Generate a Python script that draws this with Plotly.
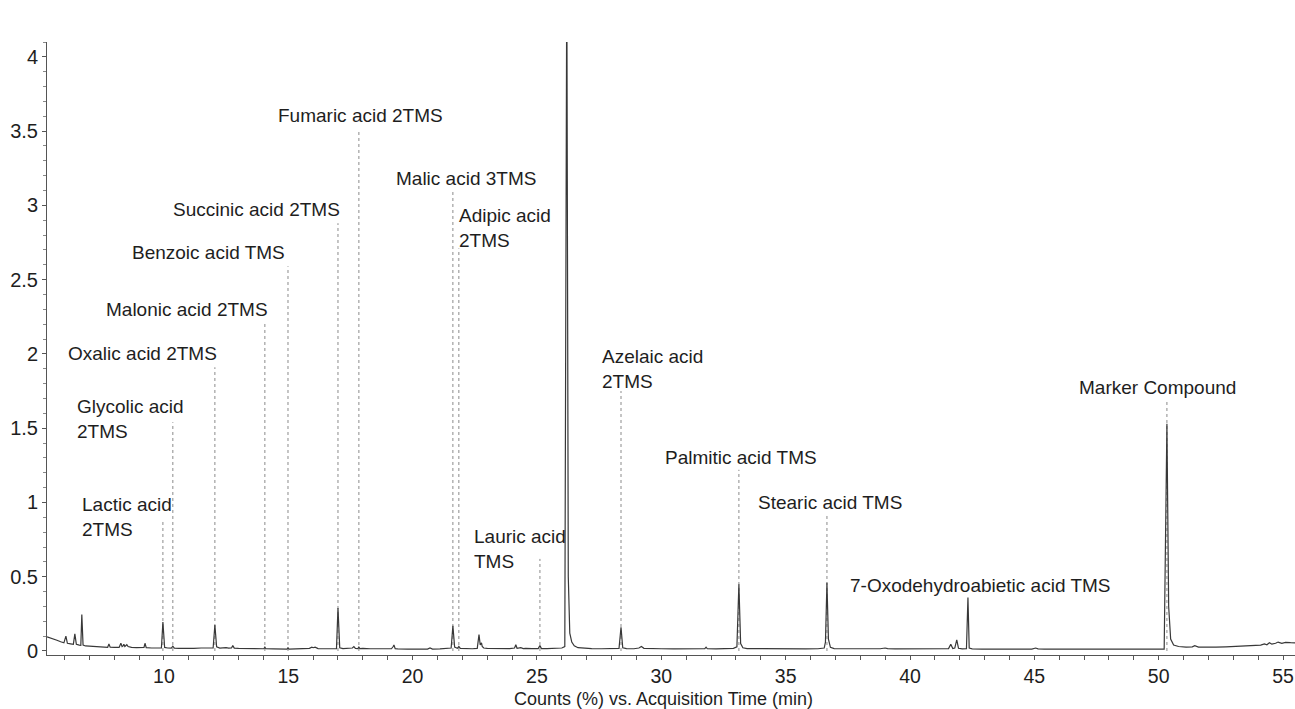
import plotly.graph_objects as go

# ---- chromatogram trace ----
time_min = [
    5.30, 5.40, 5.55, 5.70, 5.85, 5.98, 6.06, 6.12, 6.25, 6.36,
    6.42, 6.48, 6.60, 6.66, 6.70, 6.75, 6.85, 7.00, 7.20, 7.40,
    7.60, 7.74, 7.79, 7.84, 8.00, 8.20, 8.27, 8.32, 8.36, 8.39,
    8.43, 8.48, 8.51, 8.56, 8.70, 8.90, 9.10, 9.20, 9.24, 9.29,
    9.50, 9.70, 9.90, 9.96, 10.03, 10.15, 10.30, 10.36, 10.42, 10.60,
    10.90, 11.20, 11.50, 11.80, 11.98, 12.05, 12.12, 12.25, 12.40, 12.50,
    12.60, 12.72, 12.77, 12.83, 13.00, 13.30, 13.60, 13.90, 14.02, 14.06,
    14.10, 14.40, 14.70, 14.95, 14.99, 15.03, 15.30, 15.60, 15.85, 15.95,
    16.00, 16.08, 16.20, 16.50, 16.80, 16.94, 17.00, 17.07, 17.20, 17.45,
    17.58, 17.64, 17.70, 17.80, 17.84, 17.88, 18.00, 18.30, 18.60, 18.90,
    19.15, 19.22, 19.25, 19.30, 19.40, 19.80, 20.20, 20.60, 20.70, 20.80,
    21.10, 21.40, 21.55, 21.62, 21.69, 21.80, 21.86, 21.92, 22.10, 22.40,
    22.60, 22.67, 22.72, 22.77, 22.80, 22.86, 23.00, 23.30, 23.60, 23.90,
    24.10, 24.15, 24.20, 24.35, 24.45, 24.55, 24.80, 25.05, 25.12, 25.18,
    25.40, 25.70, 26.00, 26.12, 26.20, 26.26, 26.32, 26.40, 26.50, 26.65,
    26.90, 27.20, 27.60, 28.00, 28.30, 28.38, 28.45, 28.60, 28.90, 29.10,
    29.20, 29.30, 29.60, 30.00, 30.50, 31.00, 31.50, 31.75, 31.80, 31.85,
    32.20, 32.60, 32.90, 33.04, 33.12, 33.19, 33.28, 33.45, 33.80, 34.30,
    34.80, 35.30, 35.80, 36.30, 36.55, 36.60, 36.66, 36.72, 36.80, 36.95,
    37.30, 37.80, 38.30, 38.80, 39.00, 39.10, 39.40, 39.90, 40.40, 40.90,
    41.30, 41.55, 41.64, 41.72, 41.80, 41.88, 41.95, 42.10, 42.27, 42.33,
    42.38, 42.50, 42.90, 43.40, 43.90, 44.40, 44.90, 45.05, 45.15, 45.40,
    45.90, 46.40, 46.90, 47.40, 47.90, 48.40, 48.90, 49.40, 49.90, 50.22,
    50.33, 50.40, 50.48, 50.60, 50.80, 51.10, 51.35, 51.45, 51.60, 51.90,
    52.30, 52.70, 53.10, 53.50, 53.85, 54.10, 54.25, 54.35, 54.45, 54.55,
    54.70, 54.80, 54.95, 55.10, 55.30, 55.48,
]
counts_pct = [
    0.095, 0.090, 0.080, 0.072, 0.062, 0.055, 0.100, 0.052, 0.048, 0.045,
    0.115, 0.045, 0.040, 0.038, 0.245, 0.040, 0.034, 0.032, 0.030, 0.028,
    0.026, 0.025, 0.048, 0.025, 0.024, 0.024, 0.052, 0.030, 0.034, 0.046,
    0.030, 0.036, 0.042, 0.030, 0.024, 0.022, 0.022, 0.024, 0.052, 0.022,
    0.020, 0.020, 0.020, 0.195, 0.024, 0.020, 0.019, 0.032, 0.019, 0.018,
    0.016, 0.017, 0.020, 0.018, 0.020, 0.175, 0.028, 0.020, 0.024, 0.022,
    0.019, 0.020, 0.036, 0.019, 0.017, 0.016, 0.016, 0.015, 0.015, 0.026,
    0.015, 0.014, 0.014, 0.013, 0.022, 0.013, 0.014, 0.015, 0.018, 0.026,
    0.022, 0.026, 0.016, 0.015, 0.015, 0.016, 0.290, 0.022, 0.016, 0.018,
    0.020, 0.030, 0.018, 0.016, 0.026, 0.016, 0.018, 0.015, 0.016, 0.014,
    0.015, 0.030, 0.040, 0.016, 0.014, 0.013, 0.014, 0.013, 0.020, 0.013,
    0.014, 0.016, 0.020, 0.170, 0.026, 0.018, 0.030, 0.018, 0.016, 0.015,
    0.018, 0.110, 0.040, 0.055, 0.030, 0.020, 0.017, 0.015, 0.016, 0.016,
    0.020, 0.042, 0.018, 0.022, 0.016, 0.018, 0.016, 0.016, 0.036, 0.016,
    0.016, 0.017, 0.020, 0.030, 4.600, 0.500, 0.120, 0.060, 0.035, 0.022,
    0.018, 0.016, 0.015, 0.016, 0.018, 0.160, 0.022, 0.016, 0.015, 0.020,
    0.030, 0.018, 0.015, 0.015, 0.014, 0.015, 0.014, 0.016, 0.026, 0.015,
    0.014, 0.015, 0.018, 0.028, 0.450, 0.050, 0.022, 0.016, 0.015, 0.014,
    0.015, 0.014, 0.014, 0.015, 0.020, 0.060, 0.460, 0.080, 0.025, 0.016,
    0.015, 0.014, 0.014, 0.015, 0.020, 0.016, 0.014, 0.014, 0.014, 0.013,
    0.014, 0.016, 0.045, 0.016, 0.020, 0.075, 0.018, 0.014, 0.015, 0.360,
    0.020, 0.014, 0.013, 0.013, 0.013, 0.012, 0.013, 0.020, 0.014, 0.013,
    0.012, 0.012, 0.012, 0.012, 0.012, 0.013, 0.012, 0.012, 0.012, 0.013,
    1.530, 0.300, 0.080, 0.040, 0.030, 0.026, 0.028, 0.036, 0.026, 0.024,
    0.026, 0.028, 0.030, 0.032, 0.036, 0.040, 0.048, 0.042, 0.056, 0.046,
    0.052, 0.060, 0.052, 0.058, 0.056, 0.055,
]
assert len(time_min) == len(counts_pct)

# ---- peak labels ----
compound_names = [
    "Lactic acid<br>2TMS", "Glycolic acid<br>2TMS", "Oxalic acid 2TMS",
    "Malonic acid 2TMS", "Benzoic acid TMS", "Succinic acid 2TMS",
    "Fumaric acid 2TMS", "Malic acid 3TMS", "Adipic acid<br>2TMS",
    "Phthalic acid 2TMS", "Lauric acid<br>TMS", "Azelaic acid<br>2TMS",
    "Palmitic acid TMS", "Stearic acid TMS", "7-Oxodehydroabietic acid TMS",
    "Marker Compound",
]
peak_time = [9.96, 10.36, 12.05, 14.06, 14.99, 17.00, 17.84, 21.62, 21.86,
             26.20, 25.12, 28.38, 33.12, 36.66, 42.33, 50.33]
leader_top = [0.88, 1.54, 1.91, 2.21, 2.59, 2.88, 3.51, 3.09, 2.71,
              None, 0.62, 1.75, 1.22, 0.92, None, 1.68]
label_x = [6.62, 10.88, 12.21, 14.26, 14.95, 17.16, 17.90, 19.25, 21.78,
           26.04, 22.38, 27.53, 30.06, 33.80, 37.50, 46.71]
label_y = [0.899, 1.559, 2.00, 2.296, 2.68, 2.97, 3.603, 3.178, 2.848,
           4.209, 0.687, 1.896, 1.30, 0.997, 0.444, 1.771]
label_anchor = ["left", "right", "right", "right", "right", "right", "center",
                "left", "left", "center", "left", "left", "left", "left",
                "left", "left"]

FONT = "Liberation Sans, Arial, sans-serif"
TXT = "#1e1e1e"

fig = go.Figure()

# dotted leader lines
lx, ly = [], []
for t, top in zip(peak_time, leader_top):
    if top is None:
        continue
    lx += [t, t, None]
    ly += [0, top, None]
fig.add_trace(go.Scatter(x=lx, y=ly, mode="lines",
                         line=dict(color="#8a8a8a", width=1, dash="dot"),
                         hoverinfo="skip", showlegend=False))

fig.add_trace(go.Scatter(x=time_min, y=counts_pct, mode="lines",
                         line=dict(color="#383838", width=1.2),
                         showlegend=False))

for name, x, y, anc in zip(compound_names, label_x, label_y, label_anchor):
    fig.add_annotation(x=x, y=y, text=name, showarrow=False, xanchor=anc,
                       yanchor="middle", align="left",
                       font=dict(family=FONT, size=19, color=TXT))

fig.add_annotation(xref="paper", yref="paper", x=0.494, y=-0.0715,
                   text="Counts (%) vs. Acquisition Time (min)",
                   showarrow=False, xanchor="center", yanchor="middle",
                   font=dict(family=FONT, size=18, color=TXT))

fig.update_layout(
    width=1295, height=709,
    margin=dict(l=47, r=0, t=42, b=54, autoexpand=False),
    paper_bgcolor="white", plot_bgcolor="white",
    font=dict(family=FONT, color=TXT),
    showlegend=False,
)
fig.update_xaxes(range=[5.30, 55.48], showgrid=False, zeroline=False,
                 automargin=False,
                 showline=True, linecolor="#555", linewidth=1,
                 ticks="outside", ticklen=4, tickcolor="#555",
                 tick0=0, dtick=5, tickfont=dict(size=19.5, color=TXT),
                 minor=dict(ticks="outside", dtick=1, ticklen=4, tickcolor="#555"))
fig.update_yaxes(range=[-0.027, 4.10], showgrid=False, zeroline=False,
                 automargin=False,
                 showline=True, linecolor="#555", linewidth=1,
                 ticks="outside", ticklen=4, tickcolor="#555",
                 tick0=0, dtick=0.5, tickfont=dict(size=20, color=TXT),
                 minor=dict(ticks="outside", dtick=0.1, ticklen=3, tickcolor="#888"))

# remove the page's default 8px body margin so the figure fills the window
fig.write_html("out.html",
               config={"displayModeBar": False},
               post_script="document.body.style.margin='0';"
                           "document.body.style.overflow='hidden';")
